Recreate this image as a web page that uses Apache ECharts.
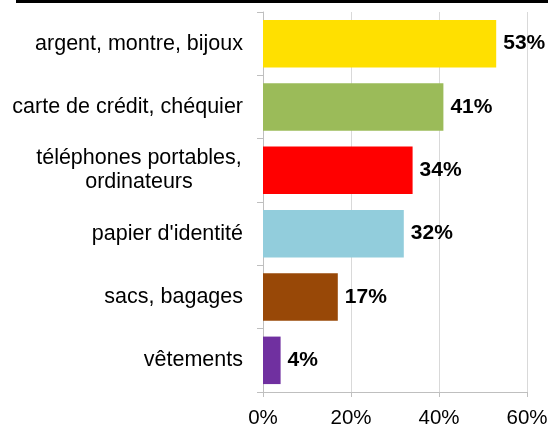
<!DOCTYPE html>
<html>
<head>
<meta charset="utf-8">
<script src="https://cdn.jsdelivr.net/npm/echarts@6/dist/echarts.min.js"></script>
<style>
html,body{margin:0;padding:0;background:#fff;}
#chart{width:548px;height:426px;}
</style>
</head>
<body>
<div id="chart"></div>
<script>
const categories = [
  "argent, montre, bijoux",
  "carte de crédit, chéquier",
  "téléphones portables,\nordinateurs",
  "papier d'identité",
  "sacs, bagages",
  "vêtements"
];
const values = [53, 41, 34, 32, 17, 4];
const barColors = ["#FFE000", "#9BBB59", "#FF0000", "#92CDDC", "#984807", "#7030A0"];
const xTicks = [0, 20, 40, 60];

const FONT = 'Liberation Sans, Arial, sans-serif';
const chart = echarts.init(document.getElementById('chart'), null, {renderer: 'canvas'});
chart.setOption({
  animation: false,
  backgroundColor: '#fff',
  textStyle: {fontFamily: FONT},
  graphic: [{
    type: 'rect',
    shape: {x: 16, y: 0, width: 532, height: 3},
    style: {fill: '#000'}
  }],
  grid: {left: 263, right: 21, top: 12, bottom: 34, containLabel: false,
         outerBoundsMode: 'none'},
  xAxis: {
    type: 'value',
    min: xTicks[0],
    max: xTicks[xTicks.length - 1],
    interval: 20,
    axisLine: {show: true, lineStyle: {color: '#bfbfbf'}},
    axisTick: {show: true, length: 5, lineStyle: {color: '#bfbfbf'}},
    splitLine: {show: true, lineStyle: {color: '#d9d9d9'}},
    axisLabel: {
      formatter: v => v + '%',
      fontSize: 20.5, color: '#000', margin: 16, fontFamily: FONT
    }
  },
  yAxis: {
    type: 'category',
    data: categories,
    inverse: true,
    axisLine: {show: true, lineStyle: {color: '#bfbfbf'}},
    axisTick: {show: true, length: 6, lineStyle: {color: '#bfbfbf'}},
    axisLabel: {
      fontSize: 21.5, color: '#000', margin: 20, fontFamily: FONT,
      lineHeight: 24,
      // two-line labels are centred on their widest line
      formatter: v => v.indexOf('\n') < 0 ? v :
        v.split('\n').map(s => '{m|' + s + '}').join('\n'),
      rich: {
        m: {width: 208, align: 'center', fontSize: 21.5, lineHeight: 24,
            color: '#000', fontFamily: FONT}
      }
    }
  },
  series: [{
    type: 'bar',
    data: values.map((v, i) => ({value: v, itemStyle: {color: barColors[i]}})),
    barCategoryGap: '25%',
    label: {
      show: true, position: 'right', distance: 7,
      formatter: p => p.value + '%',
      fontSize: 21, fontWeight: 'bold', color: '#000', fontFamily: FONT
    }
  }]
});
</script>
</body>
</html>
